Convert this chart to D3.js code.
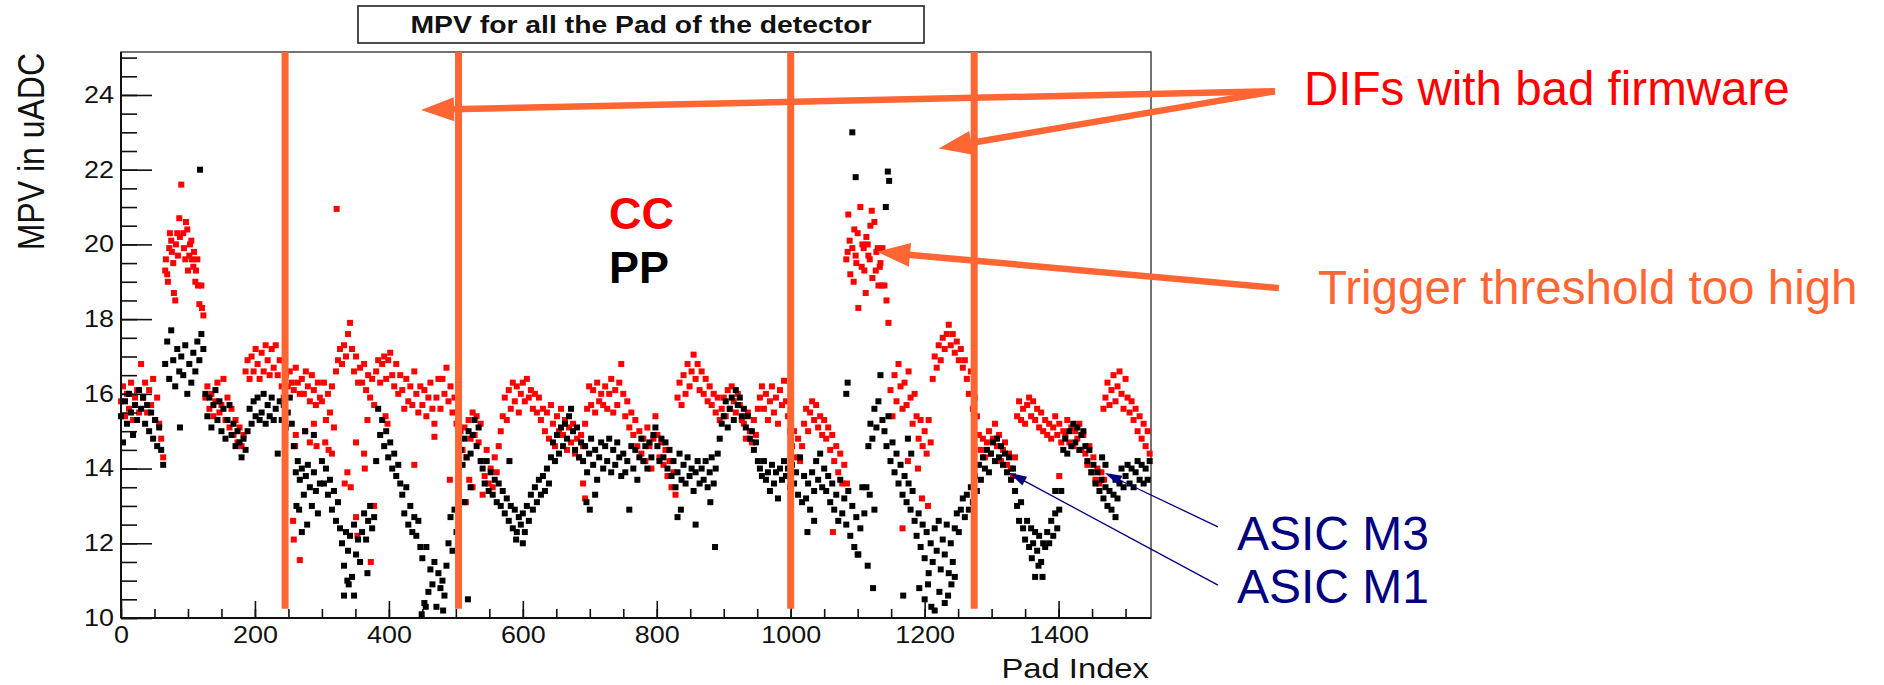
<!DOCTYPE html>
<html>
<head>
<meta charset="utf-8">
<script src="https://cdn.jsdelivr.net/npm/d3@7/dist/d3.min.js"></script>
<style>
body { margin: 0; background: #fff; }
svg text { font-family: "Liberation Sans", Arial, Helvetica, sans-serif; }
</style>
</head>
<body>
<div id="chart"></div>
<script>
// one value every padStep pads
var padStep = 3;

// CC (red) MPV per pad
var ccValues = [
15.8,16.2,15.4,16.0,15.6,16.3,15.3,15.9,16.1,15.5,
16.8,15.9,16.3,15.5,16.1,15.7,16.4,15.3,15.9,15.2,
14.8,14.3,19.3,19.2,19.9,20.1,19.5,18.5,20.3,20.7,
21.6,20.3,19.6,20.4,19.7,20.1,19.4,19.0,19.6,18.4,
18.9,18.1,15.9,16.2,15.6,16.0,15.4,15.8,16.3,15.5,
15.7,16.4,15.3,15.9,15.1,15.6,14.9,15.3,14.7,15.1,
14.6,14.9,16.6,16.9,16.4,17.0,16.6,17.2,16.8,16.4,
17.1,16.6,17.3,16.9,16.5,17.2,16.7,17.3,16.5,16.9,
16.2,15.9,16.5,16.2,16.6,16.3,16.1,16.7,16.3,16.0,
16.4,16.0,16.6,16.2,15.8,16.5,16.1,15.7,16.3,15.9,
15.8,16.3,15.3,16.0,15.5,16.2,15.1,16.6,16.9,17.2,
16.8,17.3,17.0,17.6,17.9,17.2,16.6,17.0,16.3,16.7,
16.3,16.8,16.1,16.5,15.9,16.4,15.7,16.6,16.9,16.3,
16.8,17.0,16.4,16.9,17.1,16.5,16.2,16.8,16.0,16.5,
16.1,15.6,16.4,15.8,16.2,15.7,16.6,16.0,15.5,16.2,
15.7,16.1,15.4,15.9,16.3,15.6,15.2,15.9,16.4,15.6,
16.4,16.0,16.7,15.8,16.2,15.5,15.9,15.2,14.6,15.0,
14.5,15.1,14.3,15.3,14.8,15.5,14.9,15.4,14.7,15.2,
14.2,13.8,14.5,13.6,14.0,13.5,14.3,13.9,14.6,15.0,
15.4,15.9,15.3,16.1,15.6,16.3,15.8,16.2,15.5,16.0,
16.3,15.8,16.4,15.9,16.1,15.6,16.0,15.5,15.9,15.3,
15.6,15.0,15.5,14.8,15.7,15.2,14.6,15.4,15.0,15.6,
14.9,15.3,14.5,15.1,14.7,15.2,14.4,14.8,14.3,14.9,
14.6,15.2,15.6,16.2,15.7,16.1,15.5,16.3,15.8,16.0,
15.7,16.2,15.6,16.0,16.4,15.5,16.1,15.7,16.3,16.8,
16.0,15.4,15.8,15.1,15.5,14.9,15.3,14.6,15.0,14.4,
14.8,14.2,15.1,14.6,14.0,14.8,15.4,14.9,14.3,14.7,
14.1,14.5,13.8,14.2,13.5,13.9,13.3,15.9,16.3,15.7,
16.5,16.0,16.8,16.2,16.6,17.05,16.4,16.8,16.1,16.6,
16.0,16.4,15.8,16.2,15.7,16.0,15.5,15.9,15.3,15.6,
15.9,15.4,16.1,15.6,16.2,15.8,15.5,16.0,15.7,15.3,
15.2,14.8,15.5,15.0,14.7,15.3,14.9,15.6,15.9,16.2,
15.6,16.0,15.3,15.8,16.2,15.5,15.9,15.2,16.1,15.7,
16.35,15.8,15.4,15.0,14.6,15.0,14.3,14.8,14.2,14.6,
15.2,15.6,15.0,15.5,15.8,15.3,15.7,15.1,15.4,14.9,
15.3,14.8,15.1,14.5,14.9,14.2,14.6,13.9,14.4,13.6,
14.1,19.6,20.8,19.2,19.9,20.4,19.5,18.3,21.0,20.0,
19.3,20.2,19.7,20.5,19.1,20.6,19.8,18.9,19.5,19.9,
18.9,18.5,17.9,16.1,15.4,16.5,15.8,16.8,16.2,15.6,
16.3,15.7,16.6,15.9,15.2,16.0,15.4,14.8,15.3,14.6,
15.0,14.4,15.3,14.7,16.4,17.0,16.7,17.3,16.9,17.5,
17.2,17.6,17.85,17.3,17.6,17.1,17.4,16.9,17.2,16.7,
16.9,16.4,16.0,16.6,15.6,15.9,15.4,14.9,14.5,14.8,
14.3,14.7,15.0,14.4,14.8,15.2,14.6,14.9,14.2,14.5,
14.7,14.1,14.4,14.0,13.8,14.3,15.4,15.8,15.3,15.6,
15.2,15.7,15.9,15.4,15.8,15.3,15.6,15.1,15.5,15.0,
15.3,14.9,15.2,14.8,15.1,15.4,14.9,15.2,14.7,15.0,
14.9,15.3,14.7,15.1,14.6,15.0,14.8,15.2,14.5,14.9,
14.4,14.1,14.6,13.9,14.3,13.7,14.0,13.6,13.9,15.6,
15.9,16.3,15.7,16.1,16.5,15.8,16.2,16.6,16.0,15.6,
16.4,15.9,15.5,15.8,15.3,15.6,15.0,15.4,14.8,15.2,
14.6,15.0,14.4
];

// PP (black) MPV per pad
var ppValues = [
15.4,14.7,15.8,15.2,16.0,15.5,14.9,15.7,15.3,16.1,
15.6,15.9,15.2,15.7,15.0,15.5,14.8,15.3,14.6,15.1,
14.5,14.1,16.8,17.4,16.4,17.7,16.9,16.2,17.2,16.6,
17.0,16.5,17.3,16.0,16.8,16.3,17.1,16.6,17.4,16.9,
17.6,17.2,16.0,15.4,15.9,15.1,15.7,16.1,15.3,15.8,
15.0,15.6,14.8,15.3,15.7,14.9,15.2,14.6,15.0,14.7,
14.3,14.8,14.5,15.0,15.6,15.2,15.8,15.4,15.9,15.3,
15.5,16.0,15.2,15.7,15.4,15.9,15.3,15.6,14.4,15.8,
15.3,15.7,15.1,15.5,15.9,15.2,14.6,13.9,14.2,13.7,
14.0,13.3,13.8,14.1,13.5,13.0,13.9,13.4,12.8,13.6,
14.2,13.6,14.0,13.3,13.7,12.9,13.4,12.6,13.1,12.4,
12.0,11.4,12.3,11.8,12.2,11.1,12.5,11.7,12.1,11.5,
12.3,12.8,12.1,12.6,13.0,12.4,12.7,14.2,15.6,14.9,
15.3,14.6,15.0,14.3,14.7,14.0,14.4,13.8,14.1,13.6,
13.3,12.8,13.5,12.5,13.0,12.3,12.7,12.2,12.6,11.9,
11.6,10.4,11.9,10.7,11.3,10.9,11.5,10.3,11.2,10.8,
11.0,10.6,11.4,12.0,12.7,11.8,12.9,12.3,13.2,14.5,
14.1,14.8,14.3,15.0,14.4,14.9,15.3,14.6,15.1,14.2,
14.0,13.6,14.2,13.4,13.9,13.3,13.7,13.1,13.6,13.0,
13.4,12.8,13.2,12.6,13.0,12.4,12.9,12.3,12.7,12.5,
12.8,12.3,13.0,12.6,13.3,12.9,13.5,13.1,13.7,13.3,
13.8,13.4,14.0,13.6,14.3,14.7,14.2,14.9,14.4,15.1,
14.6,15.2,14.8,15.4,15.6,15.0,14.5,15.1,14.3,14.7,
14.2,14.6,13.9,14.4,14.8,14.1,14.5,13.7,14.3,14.7,
14.0,14.6,14.2,14.8,13.9,14.5,14.1,14.7,14.3,13.8,
14.4,13.9,14.2,12.9,14.6,14.0,14.5,13.7,14.3,14.8,
14.2,14.6,14.0,14.7,14.3,14.9,15.1,14.6,14.2,14.8,
14.3,14.7,14.0,14.5,13.8,14.2,13.5,13.9,14.4,13.7,
14.1,13.6,14.3,13.8,14.0,13.4,13.9,14.2,13.6,14.0,
13.7,14.2,13.5,13.9,14.3,13.6,14.0,14.4,14.8,15.2,
15.4,15.8,15.1,15.6,15.9,15.3,16.1,15.7,15.9,15.4,
15.6,15.1,15.4,14.8,15.0,14.5,14.7,14.2,14.0,13.8,
14.2,13.7,13.9,13.4,14.1,13.6,13.9,13.2,14.0,13.7,
14.2,13.8,14.0,13.5,14.1,13.6,13.9,13.3,14.3,13.1,
13.8,13.2,13.6,12.9,13.9,13.4,14.2,13.7,14.4,13.5,
14.0,13.4,13.8,13.1,13.6,12.9,13.3,12.6,13.7,12.8,
13.2,12.5,13.4,12.2,13.0,11.9,12.7,11.7,12.4,13.5,
12.8,13.5,14.6,15.2,14.8,15.6,15.1,15.8,16.5,15.3,
15.0,14.6,15.4,14.2,14.7,13.9,14.4,13.6,14.1,13.3,
13.8,13.1,13.6,12.9,13.4,12.6,12.2,12.8,11.9,12.5,
11.6,12.3,11.2,12.0,11.5,12.4,11.8,12.6,11.3,12.1,
11.7,12.5,11.2,12.0,11.5,12.4,12.8,12.3,12.9,13.2,
12.7,13.3,12.9,13.5,13.1,13.8,13.4,14.1,13.7,14.3,
14.0,14.5,13.9,14.4,14.7,14.2,14.8,14.3,14.6,14.1,
14.4,13.9,14.3,13.7,14.0,13.4,13.0,12.6,13.1,12.4,
12.1,12.6,11.9,12.4,12.0,12.3,11.8,12.2,11.5,12.0,
11.9,12.3,12.0,12.6,12.2,12.8,12.4,12.9,13.4,14.5,
14.8,14.4,15.0,14.6,15.2,14.7,15.1,14.5,14.9,15.0,
14.6,14.2,14.5,13.9,14.1,13.6,13.9,13.4,13.7,13.2,
13.5,13.0,13.4,12.9,13.3,13.7,13.2,13.6,14.0,13.5,
13.8,14.1,13.6,14.0,13.5,13.9,14.2,13.7,14.1,13.6,
14.0,13.7,14.2
];

// extra pads [pad, MPV] off the main band
var ccExtra = [
[67,19.6],[70,19.0],[73,20.3],[76,19.8],[79,18.7],[82,20.0],[85,19.7],[88,20.2],
[94,19.9],[97,20.6],[100,19.3],[103,20.0],[106,19.6],[109,19.8],[112,19.3],[115,18.9],[121,18.3],
[257,12.6],[258,12.1],[260,14.6],[261,14.9],[267,11.55],[275,15.0],[282,14.7],[288,15.2],
[292,14.6],[305,14.7],[310,14.5],[315,14.4],[322,20.95],[334,13.6],[338,13.9],[343,13.5],
[351,14.7],[351,12.7],[353,12.2],[363,14.4],[364,14.0],[368,15.3],[373,11.5],[378,13.0],
[395,15.4],[398,15.2],[438,14.1],[468,14.85],[491,13.7],[515,13.1],[520,13.7],[525,13.5],
[540,13.3],[690,13.6],[693,13.2],[1063,12.3],[1084,13.6],
[1085,19.8],[1088,20.1],[1094,19.0],[1097,19.7],[1100,20.3],[1106,19.4],[1109,19.9],
[1112,18.7],[1115,20.0],[1118,19.6],[1121,20.9],[1127,19.3],[1130,19.9],[1133,19.4],[1136,18.9],
[1167,12.4],[1175,14.2],[1190,14.0],[1196,13.2],[1205,13.0],[1401,13.8],[1468,13.7]
];

var ppExtra = [
[88,15.1],[118,22.0],[262,13.0],[266,12.9],[270,12.3],[275,15.0],[278,12.5],[288,14.9],
[333,10.6],[338,11.0],[340,10.9],[348,10.6],[368,11.2],[449,10.1],[455,10.3],[481,10.2],
[513,13.1],[518,10.5],[522,13.5],[580,14.2],[590,12.1],[600,12.0],[695,13.1],[700,12.9],
[708,13.3],[831,12.7],[836,12.9],[858,12.5],[880,13.1],[887,11.9],[1025,12.3],[1035,12.6],
[1083,16.0],[1085,16.3],[1092,23.0],[1097,21.8],[1100,11.7],[1115,11.4],[1118,13.3],
[1123,10.8],[1125,12.9],[1142,21.0],[1145,21.95],[1147,21.7],[1168,10.6],[1175,14.8],
[1180,14.4],[1192,10.8],[1200,10.5],[1205,10.9],[1210,10.3],[1215,10.2],[1222,10.7],
[1230,10.4],[1235,10.6],[1240,10.9],[1245,11.1],[1360,11.6],[1365,11.1],[1370,11.4],
[1376,11.1],[1395,13.4],[1465,14.3],[1470,14.1],[1485,12.7]
];

// pad index where a DIF with bad firmware starts / ends
var difBorders = [245, 504, 1000, 1274];

var xTicks = [0, 200, 400, 600, 800, 1000, 1200, 1400];
var yTicks = [10, 12, 14, 16, 18, 20, 22, 24];

var width = 1884, height = 685;
var frame = { left: 121, right: 1151, top: 52, bottom: 618 };
var rootStretch = 1.17;   // the ROOT picture was stretched sideways in the slide
var orange = "#ff6633";

var svg = d3.select("#chart").append("svg")
	.attr("width", width)
	.attr("height", height)
	.style("display", "block");

svg.append("rect").attr("width", width).attr("height", height).attr("fill", "#fff");

var x = d3.scaleLinear().domain([0, 1538]).range([frame.left, frame.right]);
var y = d3.scaleLinear().domain([10, 25.15]).range([frame.bottom, frame.top]);

function stretch(sel, k) {
	sel.each(function() {
		var len = this.getComputedTextLength();
		d3.select(this).attr("textLength", len * k).attr("lengthAdjust", "spacingAndGlyphs");
	});
}

// title box
svg.append("rect")
	.attr("x", 358).attr("y", 6)
	.attr("width", 566).attr("height", 37)
	.attr("fill", "#fff")
	.attr("stroke", "#222")
	.attr("stroke-width", 1.6);

svg.append("text")
	.attr("x", 641).attr("y", 33)
	.attr("text-anchor", "middle")
	.attr("font-size", 23)
	.attr("font-weight", "bold")
	.attr("fill", "#111")
	.attr("textLength", 461)
	.attr("lengthAdjust", "spacingAndGlyphs")
	.text("MPV for all the Pad of the detector");

// frame
svg.append("rect")
	.attr("x", frame.left).attr("y", frame.top)
	.attr("width", frame.right - frame.left)
	.attr("height", frame.bottom - frame.top)
	.attr("fill", "none")
	.attr("stroke", "#444")
	.attr("stroke-width", 1.5);

// points
function toPoints(values, extra) {
	var pts = values.map(function(v, i) { return { pad: i * padStep, v: v }; });
	extra.forEach(function(d) { pts.push({ pad: d[0], v: d[1] }); });
	return pts;
}

var ccPoints = toPoints(ccValues, ccExtra);
var ppPoints = toPoints(ppValues, ppExtra);
var mk = 6;

svg.append("g").selectAll("rect")
	.data(ccPoints)
	.enter()
	.append("rect")
	.attr("x", function(d) { return x(d.pad) - mk / 2; })
	.attr("y", function(d) { return y(d.v) - mk / 2; })
	.attr("width", mk).attr("height", mk)
	.attr("fill", "#ff0000");

svg.append("g").selectAll("rect")
	.data(ppPoints)
	.enter()
	.append("rect")
	.attr("x", function(d) { return x(d.pad) - mk / 2; })
	.attr("y", function(d) { return y(d.v) - mk / 2; })
	.attr("width", mk).attr("height", mk)
	.attr("fill", "#000");

// axes, ROOT style: ticks inside the frame
var yMinor = d3.range(10, 25.1, 0.5);
var xMinor = d3.range(0, 1538, 50);

var yAxisG = svg.append("g").attr("transform", "translate(" + frame.left + ",0)");
yAxisG.append("g").call(d3.axisRight(y).tickValues(yMinor).tickSize(16).tickFormat(""));
yAxisG.append("g").call(d3.axisRight(y).tickValues(yTicks).tickSize(31).tickFormat(""));
var yLab = yAxisG.append("g").call(d3.axisLeft(y).tickValues(yTicks).tickSize(0).tickPadding(7).tickFormat(d3.format("d")));
yAxisG.selectAll("path.domain").remove();
yAxisG.selectAll("line").attr("stroke", "#111").attr("stroke-width", 1.6);
yLab.selectAll("text").attr("font-size", 23).attr("fill", "#111")
	.style("font-family", "'Liberation Sans', Arial, sans-serif");
stretch(yLab.selectAll("text"), rootStretch);

var xAxisG = svg.append("g").attr("transform", "translate(0," + frame.bottom + ")");
xAxisG.append("g").call(d3.axisTop(x).tickValues(xMinor).tickSize(9).tickFormat(""));
xAxisG.append("g").call(d3.axisTop(x).tickValues(xTicks).tickSize(17).tickFormat(""));
var xLab = xAxisG.append("g").call(d3.axisBottom(x).tickValues(xTicks).tickSize(0).tickPadding(9).tickFormat(d3.format("d")));
xAxisG.selectAll("path.domain").remove();
xAxisG.selectAll("line").attr("stroke", "#111").attr("stroke-width", 1.6);
xLab.selectAll("text").attr("font-size", 23).attr("fill", "#111")
	.style("font-family", "'Liberation Sans', Arial, sans-serif");
stretch(xLab.selectAll("text"), rootStretch);

svg.append("line")
	.attr("x1", frame.left).attr("x2", frame.left)
	.attr("y1", frame.top).attr("y2", frame.bottom)
	.attr("stroke", "#111").attr("stroke-width", 2);
svg.append("line")
	.attr("x1", frame.left).attr("x2", frame.right)
	.attr("y1", frame.bottom).attr("y2", frame.bottom)
	.attr("stroke", "#111").attr("stroke-width", 2);

// axis titles
var xt = svg.append("text")
	.attr("x", 1149).attr("y", 678)
	.attr("text-anchor", "end")
	.attr("font-size", 28)
	.attr("fill", "#111")
	.text("Pad Index");
stretch(xt, rootStretch);

svg.append("text")
	.attr("transform", "translate(44,53) scale(" + rootStretch + ",1) rotate(-90)")
	.attr("text-anchor", "end")
	.attr("font-size", 32)
	.attr("fill", "#111")
	.text("MPV in uADC");

// DIF borders
svg.append("g").selectAll("line")
	.data(difBorders)
	.enter()
	.append("line")
	.attr("x1", function(d) { return x(d); })
	.attr("x2", function(d) { return x(d); })
	.attr("y1", frame.top)
	.attr("y2", y(10.25))
	.attr("stroke", orange)
	.attr("stroke-width", 7);

// legend
svg.append("text")
	.attr("x", 609).attr("y", 229)
	.attr("font-size", 45).attr("font-weight", "bold")
	.attr("fill", "#ff0000")
	.text("CC");
svg.append("text")
	.attr("x", 609).attr("y", 283)
	.attr("font-size", 45).attr("font-weight", "bold")
	.attr("fill", "#000")
	.text("PP");

// arrows: start and tip given in chart units
function arrow(from, to, color, lw, headLen, headW) {
	var x1 = x(from[0]), y1 = y(from[1]), x2 = x(to[0]), y2 = y(to[1]);
	var dx = x2 - x1, dy = y2 - y1;
	var len = Math.sqrt(dx * dx + dy * dy);
	var ux = dx / len, uy = dy / len;
	var bx = x2 - ux * headLen, by = y2 - uy * headLen;
	svg.append("line")
		.attr("x1", x1).attr("y1", y1)
		.attr("x2", bx + ux * 2).attr("y2", by + uy * 2)
		.attr("stroke", color)
		.attr("stroke-width", lw);
	svg.append("polygon")
		.attr("points", [
			[x2, y2],
			[bx - uy * headW / 2, by + ux * headW / 2],
			[bx + uy * headW / 2, by - ux * headW / 2]
		].map(function(p) { return p.join(","); }).join(" "))
		.attr("fill", color);
}

var firmwareFrom = [1723, 24.1];
arrow(firmwareFrom, [448, 23.6], orange, 6.5, 33, 24);
arrow(firmwareFrom, [1221, 22.57], orange, 6.5, 33, 24);
arrow([1729, 18.83], [1129, 19.8], orange, 6.5, 33, 24);

arrow([1638, 12.44], [1469, 13.88], "#000080", 1.3, 17, 10);
arrow([1638, 10.88], [1327, 13.88], "#000080", 1.3, 17, 10);

// annotations
svg.append("text")
	.attr("x", 1304).attr("y", 105)
	.attr("font-size", 47.5)
	.attr("fill", "#ff0000")
	.text("DIFs with bad firmware");

svg.append("text")
	.attr("x", 1318).attr("y", 304)
	.attr("font-size", 47.5)
	.attr("fill", orange)
	.text("Trigger threshold too high");

svg.append("text")
	.attr("x", 1237).attr("y", 550)
	.attr("font-size", 48)
	.attr("fill", "#000080")
	.text("ASIC M3");

svg.append("text")
	.attr("x", 1237).attr("y", 603)
	.attr("font-size", 48)
	.attr("fill", "#000080")
	.text("ASIC M1");
</script>
</body>
</html>
